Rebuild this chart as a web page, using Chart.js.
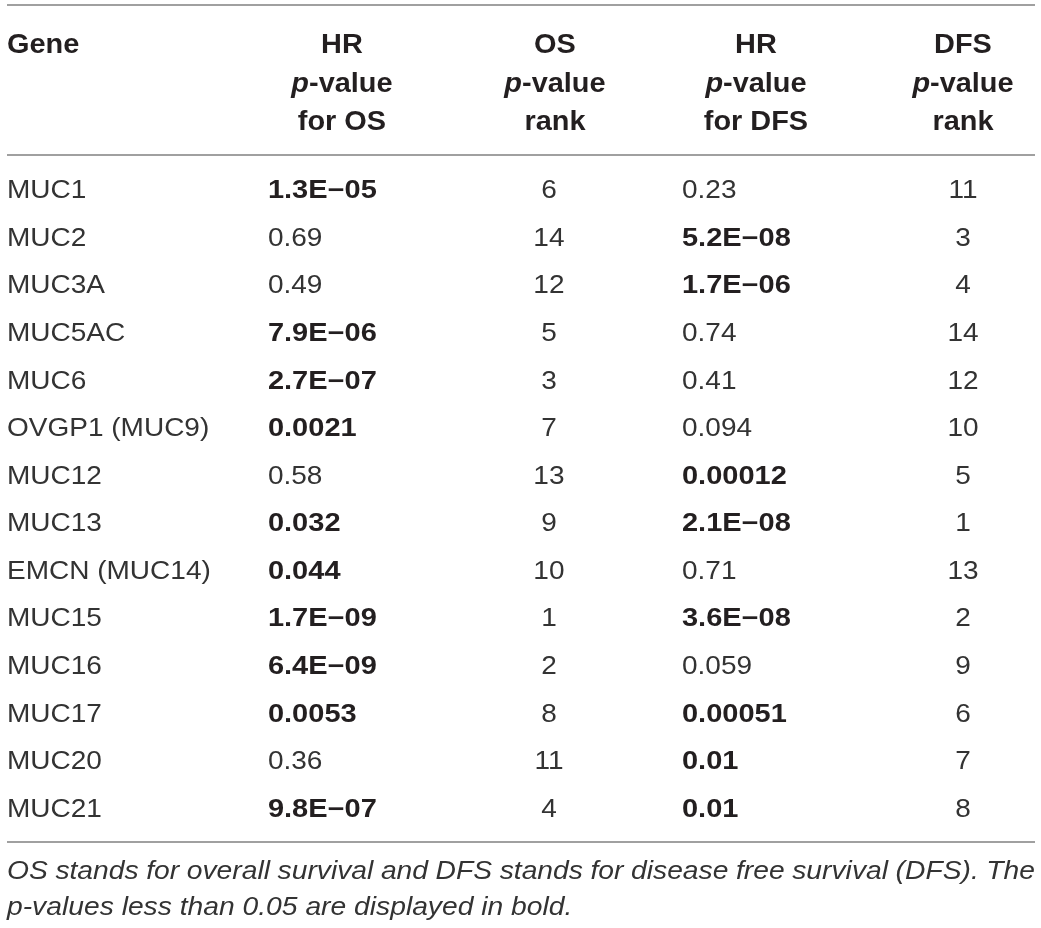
<!DOCTYPE html>
<html>
<head>
<meta charset="utf-8">
<script src="https://cdn.jsdelivr.net/npm/chart.js@4.4.1/dist/chart.umd.min.js"></script>
<style>
  html, body { margin: 0; padding: 0; background: #ffffff; }
  canvas { display: block; }
</style>
</head>
<body>
<canvas id="c" width="1041" height="928" style="width:1041px;height:928px"></canvas>
<script>
// ---- Data ----
const genes = ['MUC1', 'MUC2', 'MUC3A', 'MUC5AC', 'MUC6', 'OVGP1 (MUC9)', 'MUC12', 'MUC13',
               'EMCN (MUC14)', 'MUC15', 'MUC16', 'MUC17', 'MUC20', 'MUC21'];
const osPValues = ['1.3E−05', '0.69', '0.49', '7.9E−06', '2.7E−07', '0.0021', '0.58', '0.032',
                   '0.044', '1.7E−09', '6.4E−09', '0.0053', '0.36', '9.8E−07'];
const osRanks = [6, 14, 12, 5, 3, 7, 13, 9, 10, 1, 2, 8, 11, 4];
const dfsPValues = ['0.23', '5.2E−08', '1.7E−06', '0.74', '0.41', '0.094', '0.00012', '2.1E−08',
                    '0.71', '3.6E−08', '0.059', '0.00051', '0.01', '0.01'];
const dfsRanks = [11, 3, 4, 14, 12, 10, 5, 1, 13, 2, 9, 6, 7, 8];
const headers = [
  ['Gene'],
  ['HR', 'p-value', 'for OS'],
  ['OS', 'p-value', 'rank'],
  ['HR', 'p-value', 'for DFS'],
  ['DFS', 'p-value', 'rank']
];
const captionLine1 = 'OS stands for overall survival and DFS stands for disease free survival (DFS). The';
const captionLine2 = 'p-values less than 0.05 are displayed in bold.';
const boldThreshold = 0.05;

// ---- Styles ----
const FAMILY = '"Liberation Sans", Arial, Helvetica, sans-serif';
const TEXT = '#231f20';
const TEXT_LIGHT = '#333333';
const RULE = '#a0a0a0';
const HEADER_SHIFT = [0, 0, 6, 0, 0];

function isBold(s) { return Number(s.replace('−', '-')) < boldThreshold; }

function drawText(ctx, s, x, y, align, sx) {
  const w = ctx.measureText(s).width * sx;
  const x0 = align === 'left' ? x : (align === 'center' ? x - w / 2 : x - w);
  ctx.save();
  ctx.translate(x0, y);
  ctx.scale(sx, 1);
  ctx.textAlign = 'left';
  ctx.textBaseline = 'alphabetic';
  ctx.fillText(s, 0, 0);
  ctx.restore();
  return w;
}

const tablePlugin = {
  id: 'tablePlugin',
  afterDraw(chart) {
    const ctx = chart.ctx;
    const area = chart.chartArea;
    const xs = chart.scales.x;
    const ys = chart.scales.y;
    ctx.save();
    ctx.fillStyle = TEXT;

    // rules
    ctx.strokeStyle = RULE;
    ctx.lineWidth = 2;
    [area.top - 160.5, area.top - 10.5, area.bottom + 10.5].forEach(y => {
      ctx.beginPath();
      ctx.moveTo(area.left, y);
      ctx.lineTo(area.right, y);
      ctx.stroke();
    });

    // headers
    const hSx = 1.07;
    const hBase = [area.top - 112.5, area.top - 73.5, area.top - 35.5];
    headers.forEach((lines, col) => {
      lines.forEach((line, li) => {
        const y = hBase[li];
        ctx.fillStyle = TEXT;
        if (col === 0) {
          ctx.font = 'bold 27px ' + FAMILY;
          drawText(ctx, line, area.left, y, 'left', hSx);
          return;
        }
        const cx = xs.getPixelForValue(col) + HEADER_SHIFT[col];
        if (line.startsWith('p-')) {
          ctx.font = 'italic bold 27px ' + FAMILY;
          const w1 = ctx.measureText('p').width * hSx;
          ctx.font = 'bold 27px ' + FAMILY;
          const rest = line.slice(1);
          const w2 = ctx.measureText(rest).width * hSx;
          const x0 = cx - (w1 + w2) / 2;
          ctx.font = 'italic bold 27px ' + FAMILY;
          drawText(ctx, 'p', x0, y, 'left', hSx);
          ctx.font = 'bold 27px ' + FAMILY;
          drawText(ctx, rest, x0 + w1, y, 'left', hSx);
        } else {
          ctx.font = 'bold 27px ' + FAMILY;
          drawText(ctx, line, cx, y, 'center', hSx);
        }
      });
    });

    // body rows
    const capHalf = 9;
    const regSx = 1.12, boldSx = 1.16;
    const valueInset = 74;
    genes.forEach((g, i) => {
      const y = ys.getPixelForValue(i) + capHalf;
      ctx.fillStyle = TEXT_LIGHT;
      ctx.font = '25px ' + FAMILY;
      drawText(ctx, g, area.left, y, 'left', regSx);

      [[1, osPValues[i]], [3, dfsPValues[i]]].forEach(([col, v]) => {
        const b = isBold(v);
        ctx.font = (b ? 'bold ' : '') + '25px ' + FAMILY;
        ctx.fillStyle = b ? TEXT : TEXT_LIGHT;
        drawText(ctx, v, xs.getPixelForValue(col) - valueInset, y, 'left', b ? boldSx : regSx);
      });

      ctx.font = '25px ' + FAMILY;
      ctx.fillStyle = TEXT_LIGHT;
      drawText(ctx, String(osRanks[i]), xs.getPixelForValue(2), y, 'center', regSx);
      drawText(ctx, String(dfsRanks[i]), xs.getPixelForValue(4), y, 'center', regSx);
    });

    // caption
    ctx.fillStyle = TEXT_LIGHT;
    ctx.font = 'italic 25px ' + FAMILY;
    const cSx = 1.13;
    const words = captionLine1.split(' ');
    const widths = words.map(w => ctx.measureText(w).width * cSx);
    const total = widths.reduce((a, b) => a + b, 0);
    const gap = (area.right - area.left - total) / (words.length - 1);
    let x = area.left;
    const y1 = area.bottom + 47.8;
    words.forEach((w, k) => {
      drawText(ctx, w, x, y1, 'left', cSx);
      x += widths[k] + gap;
    });
    drawText(ctx, captionLine2, area.left, area.bottom + 83.5, 'left', cSx);

    ctx.restore();
  }
};

new Chart(document.getElementById('c'), {
  type: 'scatter',
  data: { datasets: [] },
  options: {
    responsive: false,
    animation: false,
    events: [],
    layout: { padding: { left: 7, right: 6, top: 165.5, bottom: 96.5 } },
    plugins: { legend: { display: false }, tooltip: { enabled: false }, title: { display: false } },
    scales: {
      x: { type: 'linear', min: -0.618, max: 4.348, display: false },
      y: { type: 'category', labels: genes, offset: true, display: false }
    }
  },
  plugins: [tablePlugin]
});
</script>
</body>
</html>
